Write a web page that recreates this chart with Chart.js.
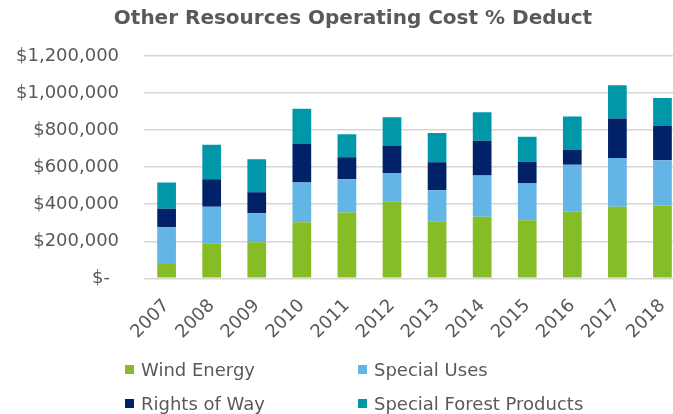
<!DOCTYPE html>
<html>
<head>
<meta charset="utf-8">
<script src="https://cdn.jsdelivr.net/npm/chart.js@4/dist/chart.umd.min.js"></script>
<style>
  html, body { margin: 0; padding: 0; background: #fff; overflow: hidden; }
  #wrap { position: relative; width: 673px; height: 414px; overflow: hidden; }
  #wrap canvas { position: absolute; left: 0; top: 0; }
  .title { position: absolute; left: 0; width: 706px; top: 5px; text-align: center; font-family: 'DejaVu Sans', sans-serif; font-weight: bold; font-size: 20px; color: #595959; white-space: nowrap; }
  .legend { position: absolute; left: 0; top: 0; font-family: 'DejaVu Sans', sans-serif; font-size: 18px; color: #595959; }
  .legend .item { position: absolute; white-space: nowrap; display: flex; align-items: center; }
  .legend .box { width: 9px; height: 9px; margin-right: 7px; }
</style>
</head>
<body>
<div id="wrap">
  <canvas id="costChart" width="690" height="414" style="width:690px;height:414px"></canvas>
  <div class="title">Other Resources Operating Cost % Deduct</div>
  <div class="legend" id="legend"></div>
</div>
<script>
const years = ['2007', '2008', '2009', '2010', '2011', '2012', '2013', '2014', '2015', '2016', '2017', '2018'];
const seriesNames = ['Wind Energy', 'Special Uses', 'Rights of Way', 'Special Forest Products'];
const seriesColors = ['#86bc25', '#62b5e5', '#012169', '#0097a9'];

const windEnergy = [77000, 187000, 195000, 303000, 355000, 413000, 308000, 333000, 314000, 360000, 387000, 393000];
const specialUses = [199000, 200000, 156000, 214000, 180000, 156000, 168000, 222000, 200000, 253000, 262000, 245000];
const rightsOfWay = [99000, 148000, 114000, 211000, 119000, 148000, 151000, 187000, 115000, 79000, 214000, 184000];
const forestProducts = [142000, 186000, 178000, 187000, 124000, 152000, 157000, 154000, 135000, 182000, 179000, 151000];

const yTicks = [0, 200000, 400000, 600000, 800000, 1000000, 1200000];

const seriesData = [windEnergy, specialUses, rightsOfWay, forestProducts];
const textGray = '#595959';

const datasets = seriesNames.map((name, i) => ({
    label: name,
    data: seriesData[i],
    backgroundColor: seriesColors[i],
    borderWidth: 0,
    barPercentage: 0.415,
    categoryPercentage: 1
}));

const ctx = document.getElementById('costChart').getContext('2d');
new Chart(ctx, {
    type: 'bar',
    data: { labels: years, datasets: datasets },
    options: {
        responsive: false,
        animation: false,
        // y tick padding is counted twice in the axis width, so pull the left edge back
        layout: { padding: { left: -9, right: 5, top: 56, bottom: 62 } },
        scales: {
            x: {
                stacked: true,
                grid: { display: false },
                border: { display: false },
                ticks: {
                    color: textGray,
                    minRotation: 45,
                    maxRotation: 45,
                    autoSkip: false,
                    padding: 9,
                    font: { family: 'DejaVu Sans', size: 18 }
                }
            },
            y: {
                stacked: true,
                min: 0,
                max: 1200000,
                afterBuildTicks: axis => { axis.ticks = yTicks.map(v => ({ value: v })); },
                grid: { color: '#d6d6d6', lineWidth: 1.5, drawTicks: false },
                border: { display: false },
                ticks: {
                    color: textGray,
                    padding: 25,
                    font: { family: 'DejaVu Sans', size: 18 },
                    callback: v => v === 0 ? '$-\u2002' : '$' + v.toLocaleString('en-US')
                }
            }
        },
        plugins: {
            legend: { display: false },
            tooltip: { enabled: false },
            title: { display: false }
        }
    }
});

// two-column legend under the axis
const legendPos = [[125, 369], [358, 369], [125, 403], [358, 403]];
const legendEl = document.getElementById('legend');
seriesNames.forEach((name, i) => {
    const item = document.createElement('div');
    item.className = 'item';
    item.style.left = legendPos[i][0] + 'px';
    item.style.top = (legendPos[i][1] - 11) + 'px';
    item.style.height = '22px';
    const box = document.createElement('span');
    box.className = 'box';
    box.style.background = seriesColors[i];
    const label = document.createElement('span');
    label.textContent = name;
    item.appendChild(box);
    item.appendChild(label);
    legendEl.appendChild(item);
});
</script>
</body>
</html>
